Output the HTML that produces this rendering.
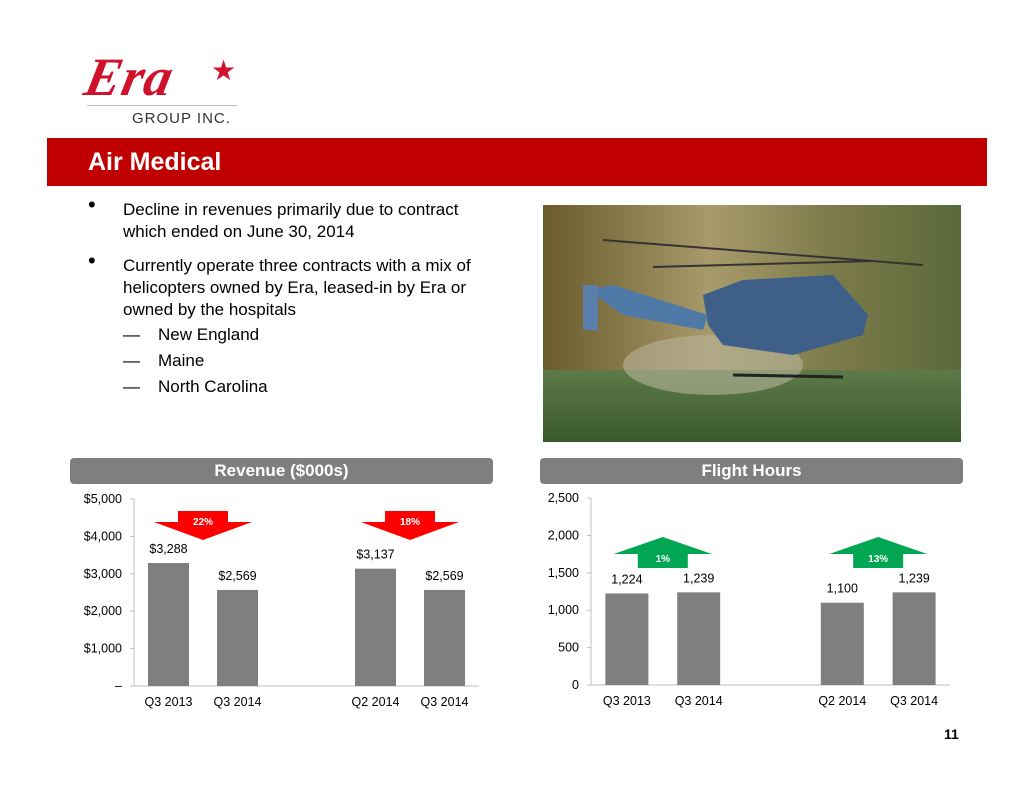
<!DOCTYPE html>
<html><head><meta charset="utf-8">
<style>
body{margin:0;width:1034px;height:799px;background:#fff;position:relative;overflow:hidden;font-family:"Liberation Sans",Arial,sans-serif;}
.abs{position:absolute;}
.bul{font-size:17px;color:#000;line-height:22px;}
.dot{font-size:22px;}
</style></head><body>
<div class="abs" style="left:80px;top:58px;width:170px;height:75px;">
  <div class="abs" style="left:6px;top:-12px;font:italic bold 54px 'Liberation Serif',serif;color:#d0112b;letter-spacing:1px;transform:skewX(-12deg);">Era</div>
  <div class="abs" style="left:131px;top:-4px;font-size:28px;color:#d0112b;">★</div>
  <div class="abs" style="left:7px;top:47px;width:150px;height:1px;background:#bbb;"></div>
  <div class="abs" style="left:52px;top:52px;font-size:15px;color:#333;letter-spacing:1px;">GROUP INC.</div>
</div>
<div class="abs" style="left:47px;top:138px;width:940px;height:48px;background:#c00000;"></div>
<div class="abs" style="left:88px;top:148px;font-size:25px;font-weight:bold;color:#fff;">Air Medical</div>

<div class="abs bul dot" style="left:88px;top:194px;">•</div>
<div class="abs bul" style="left:123px;top:199px;width:380px;">Decline in revenues primarily due to contract which ended on June 30, 2014</div>
<div class="abs bul dot" style="left:88px;top:250px;">•</div>
<div class="abs bul" style="left:123px;top:255px;width:385px;">Currently operate three contracts with a mix of helicopters owned by Era, leased-in by Era or owned by the hospitals</div>
<div class="abs bul" style="left:123px;top:324px;">—<span style="position:absolute;left:35px;white-space:nowrap;">New England</span></div>
<div class="abs bul" style="left:123px;top:350px;">—<span style="position:absolute;left:35px;white-space:nowrap;">Maine</span></div>
<div class="abs bul" style="left:123px;top:376px;">—<span style="position:absolute;left:35px;white-space:nowrap;">North Carolina</span></div>

<svg class="abs" style="left:543px;top:205px;" width="418" height="237">
  <defs>
    <linearGradient id="sky" x1="0" y1="0" x2="1" y2="0"><stop offset="0" stop-color="#6a5a2c"/><stop offset="0.4" stop-color="#a89a6a"/><stop offset="0.7" stop-color="#7c7a4a"/><stop offset="1" stop-color="#5a6a3a"/></linearGradient>
    <linearGradient id="grass" x1="0" y1="0" x2="0" y2="1"><stop offset="0" stop-color="#5d7a48"/><stop offset="1" stop-color="#3a5a2c"/></linearGradient>
  </defs>
  <rect width="418" height="237" fill="url(#sky)"/>
  <rect y="165" width="418" height="72" fill="url(#grass)"/>
  <ellipse cx="170" cy="160" rx="90" ry="30" fill="#b8b49a" opacity="0.6"/>
  <path d="M160 90 L200 75 L290 70 L325 110 L320 130 L250 150 L180 140 L165 120Z" fill="#3d5f88"/>
  <path d="M45 85 L70 80 L165 110 L160 125 L80 110Z" fill="#4f7aa8"/>
  <rect x="40" y="80" width="15" height="45" fill="#5a7faa"/>
  <line x1="60" y1="35" x2="380" y2="60" stroke="#333" stroke-width="2"/>
  <line x1="110" y1="62" x2="330" y2="56" stroke="#333" stroke-width="2"/>
  <line x1="190" y1="170" x2="300" y2="172" stroke="#222" stroke-width="3"/>
</svg>

<div class="abs" style="left:70px;top:458px;width:423px;height:26px;background:#7f7f7f;border-radius:4px;color:#fff;font-weight:bold;font-size:17px;text-align:center;line-height:26px;">Revenue ($000s)</div>
<div class="abs" style="left:540px;top:458px;width:423px;height:26px;background:#7f7f7f;border-radius:4px;color:#fff;font-weight:bold;font-size:17px;text-align:center;line-height:26px;">Flight Hours</div>

<svg class="abs" id="c1" style="left:0;top:0;" width="1034" height="799"></svg>

<div class="abs" style="left:944px;top:726px;font-size:14px;font-weight:bold;">11</div>

<script>
const revCategories=["Q3 2013","Q3 2014","","Q2 2014","Q3 2014"];
const revValues=[3288,2569,null,3137,2569];
const revLabels=["$3,288","$2,569","","$3,137","$2,569"];
const revTicks=[0,1000,2000,3000,4000,5000];
const revTickLabels=["–","$1,000","$2,000","$3,000","$4,000","$5,000"];
const revChanges=["22%","18%"];
const fhCategories=["Q3 2013","Q3 2014","","Q2 2014","Q3 2014"];
const fhValues=[1224,1239,null,1100,1239];
const fhLabels=["1,224","1,239","","1,100","1,239"];
const fhTicks=[0,500,1000,1500,2000,2500];
const fhTickLabels=["0","500","1,000","1,500","2,000","2,500"];
const fhChanges=["1%","13%"];

const NS="http://www.w3.org/2000/svg";
const svg=document.getElementById('c1');
function mk(t,a,txt){const e=document.createElementNS(NS,t);for(const k in a)e.setAttribute(k,a[k]);if(txt!==undefined)e.textContent=txt;svg.appendChild(e);return e;}

function chart(o){
  const y=v=>o.y0-(v/o.max)*(o.y0-o.y1);
  const slot=(o.x1-o.x0)/o.cats.length;
  const x=i=>o.x0+slot*(i+0.5);
  let e=mk('line',{x1:o.x0,x2:o.x0,y1:o.y1,y2:o.y0,stroke:'#bfbfbf'});
  
  e=mk('line',{x1:o.x0,x2:o.x1,y1:o.y0,y2:o.y0,stroke:'#bfbfbf'});
  
  o.ticks.forEach((t,i)=>{
    e=mk('line',{x1:o.x0-4,x2:o.x0,y1:y(t),y2:y(t),stroke:'#bfbfbf'});
    
    e=mk('text',{x:o.x0-12,y:y(t)+4,'text-anchor':'end','font-size':12.5,fill:'#000'},o.tickLabels[i]);
    
  });
  o.cats.forEach((c,i)=>{
    if(c){
      e=mk('text',{x:x(i),y:o.y0+20,'text-anchor':'middle','font-size':12.5,fill:'#000'},c);
      
    }
    if(o.vals[i]==null)return;
    e=mk('rect',{x:x(i)-o.bw/2,y:y(o.vals[i]),width:o.bw,height:o.y0-y(o.vals[i]),fill:'#7f7f7f'});
    
    e=mk('text',{x:x(i),y:y(o.vals[i])-10,'text-anchor':'middle','font-size':12.5,fill:'#000'},o.labels[i]);
    
  });
  [[0,1],[3,4]].forEach((p,k)=>{
    const cx=(x(p[0])+x(p[1]))/2;
    let pts;
    if(o.down){pts=[[cx-25,511],[cx+25,511],[cx+25,522],[cx+49,522],[cx,540],[cx-49,522],[cx-25,522]];}
    else{pts=[[cx,537],[cx+49,554],[cx+25,554],[cx+25,568],[cx-25,568],[cx-25,554],[cx-49,554]];}
    e=mk('polygon',{points:pts.map(q=>q.join(',')).join(' '),fill:o.down?'#ff0000':'#00a651'});
    
    e=mk('text',{x:cx,y:o.down?525:562,'text-anchor':'middle','font-size':10,'font-weight':'bold',fill:'#fff'},o.changes[k]);
    
  });
}
chart({name:'revenue',x0:134,x1:479,y0:686,y1:499,max:5000,bw:41,cats:revCategories,vals:revValues,labels:revLabels,ticks:revTicks,tickLabels:revTickLabels,changes:revChanges,down:true});
chart({name:'flight-hours',x0:591,x1:950,y0:685,y1:498,max:2500,bw:43,cats:fhCategories,vals:fhValues,labels:fhLabels,ticks:fhTicks,tickLabels:fhTickLabels,changes:fhChanges,down:false});
</script>
</body></html>
